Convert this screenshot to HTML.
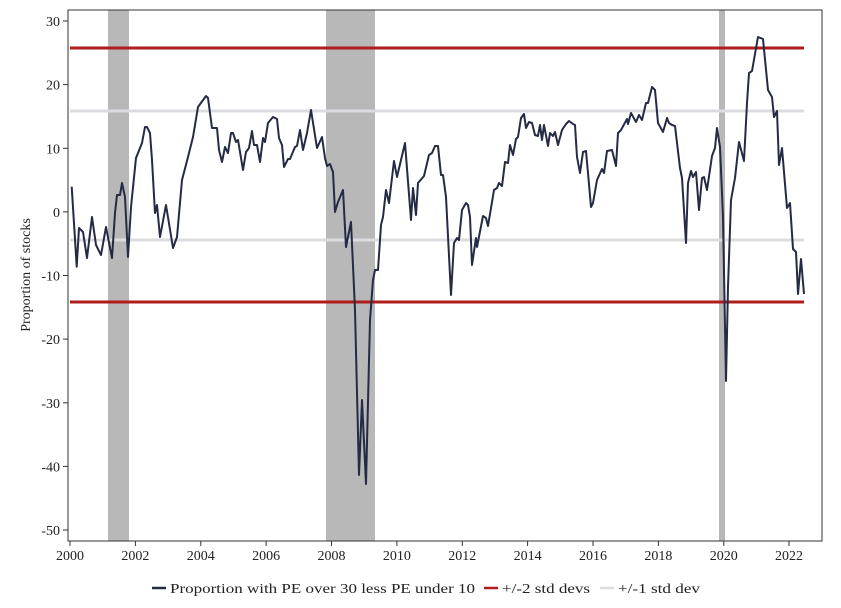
<!DOCTYPE html>
<html><head><meta charset="utf-8"><style>
body{margin:0;background:#fff}
svg text{font-family:"Liberation Serif","DejaVu Serif",serif;font-size:14px;fill:#222}
</style></head><body>
<svg width="841" height="603" viewBox="0 0 841 603" xmlns="http://www.w3.org/2000/svg">
<rect x="108" y="10" width="21" height="531" fill="#b8b8b8"/>
<rect x="326" y="10" width="49" height="531" fill="#b8b8b8"/>
<rect x="719" y="10" width="6" height="531" fill="#b8b8b8"/>
<line x1="70" y1="111" x2="804" y2="111" stroke="#dcdce0" stroke-width="3"/>
<line x1="70" y1="240" x2="804" y2="240" stroke="#dcdce0" stroke-width="3"/>
<line x1="70" y1="48" x2="804" y2="48" stroke="#b01c1c" stroke-width="3"/>
<line x1="70" y1="302" x2="804" y2="302" stroke="#b01c1c" stroke-width="3"/>
<polyline fill="none" stroke="#252a45" stroke-width="2" stroke-linejoin="round" points="
71.7,186.7 76.7,266.7 79,228 83,232 87,258 92,217 96,245 101,255 106,227 112,258 115,213 117,195 120,195 122,183 125,197 128,257 131,207 136,158 142,143 145,127 147,127 150,133 152,160 155,213 157,205 160,237 166,205 173,248 177,237 182,180 188,157 193,137 198,107 206,96 208,98 212,128 217,128 219,150 222,162 225,147 228,153 231,133 233,133 236,142 238,140 243,170 246,152 249,148 252,131 254,145 257,145 260,162 263,138 265,142 268,123 273,117 277,119 279,138 282,145 284,167 288,159 290,159 295,147 297,146 300,130 303,150 307,133 311,110 317,148 322,137 325,158 327,166 330,164 333,172 335,212 338,202 343,190 346,247 351,222 355,310 359,475 362,400 366,484 370,320 373,280 375,270 378,270 381,225 383,217 386,190 389,203 394,161 397,177 405,143 411,220 413,188 416,215 418,183 424,176 429,155 432,153 435,146 438,146 441,175 443,175 446,197 451,295 454,243 457,238 459,240 462,210 466,203 468,205 470,217 472,265 476,238 477,247 483,216 486,218 488,226 494,190 497,188 499,183 502,186 505,162 508,163 510,145 513,155 516,139 518,137 521,118 524,114 526,128 529,122 532,123 535,135 538,136 540,125 542,140 544,125 548,146 550,133 553,136 555,132 558,145 562,130 566,124 569,121 573,124 575,125 577,157 580,173 583,152 586,151 588,173 591,207 593,203 597,180 602,169 604,173 607,151 612,150 616,166 618,133 621,130 627,119 628,124 631,113 636,122 639,115 642,120 646,103 648,103 652,87 655,90 658,123 663,132 667,118 669,123 672,125 675,126 680,168 682,178 686,243 688,183 691,171 693,177 696,172 699,210 702,178 704,177 707,190 712,156 715,148 717,128 720,147 723,217 726,381 728,287 731,200 735,178 739,142 744,161 747,103 749,73 752,71 758,37 763,39 768,90 772,97 774,117 777,111 779,165 782,148 787,208 790,203 793,249 796,252 798,294 801,259 804,294"/>
<rect x="68" y="10" width="754" height="531" fill="none" stroke="#333" stroke-width="1"/>
<g stroke="#333" stroke-width="1">
<line x1="63" y1="21" x2="68" y2="21"/><line x1="63" y1="84.6" x2="68" y2="84.6"/><line x1="63" y1="148.3" x2="68" y2="148.3"/><line x1="63" y1="211.9" x2="68" y2="211.9"/><line x1="63" y1="275.5" x2="68" y2="275.5"/><line x1="63" y1="339.1" x2="68" y2="339.1"/><line x1="63" y1="402.8" x2="68" y2="402.8"/><line x1="63" y1="466.4" x2="68" y2="466.4"/><line x1="63" y1="530" x2="68" y2="530"/>
<line x1="70" y1="541" x2="70" y2="546"/><line x1="135.4" y1="541" x2="135.4" y2="546"/><line x1="200.8" y1="541" x2="200.8" y2="546"/><line x1="266.1" y1="541" x2="266.1" y2="546"/><line x1="331.5" y1="541" x2="331.5" y2="546"/><line x1="396.9" y1="541" x2="396.9" y2="546"/><line x1="462.3" y1="541" x2="462.3" y2="546"/><line x1="527.6" y1="541" x2="527.6" y2="546"/><line x1="593" y1="541" x2="593" y2="546"/><line x1="658.4" y1="541" x2="658.4" y2="546"/><line x1="723.8" y1="541" x2="723.8" y2="546"/><line x1="789" y1="541" x2="789" y2="546"/>
</g>
<g text-anchor="end">
<text x="60" y="26">30</text><text x="60" y="89.6">20</text><text x="60" y="153.3">10</text><text x="60" y="216.9">0</text><text x="60" y="280.5">-10</text><text x="60" y="344.1">-20</text><text x="60" y="407.8">-30</text><text x="60" y="471.4">-40</text><text x="60" y="535">-50</text>
</g>
<g text-anchor="middle">
<text x="70" y="560">2000</text><text x="135.4" y="560">2002</text><text x="200.8" y="560">2004</text><text x="266.1" y="560">2006</text><text x="331.5" y="560">2008</text><text x="396.9" y="560">2010</text><text x="462.3" y="560">2012</text><text x="527.6" y="560">2014</text><text x="593" y="560">2016</text><text x="658.4" y="560">2018</text><text x="723.8" y="560">2020</text><text x="789" y="560">2022</text>
</g>
<text transform="translate(30,275) rotate(-90)" text-anchor="middle">Proportion of stocks</text>
<line x1="152" y1="588" x2="166" y2="588" stroke="#252a45" stroke-width="2.5"/>
<text x="170" y="593" textLength="305" lengthAdjust="spacingAndGlyphs">Proportion with PE over 30 less PE under 10</text>
<line x1="484" y1="588" x2="498" y2="588" stroke="#b01c1c" stroke-width="2.5"/>
<text x="502" y="593" textLength="88" lengthAdjust="spacingAndGlyphs">+/-2 std devs</text>
<line x1="600" y1="588" x2="614" y2="588" stroke="#dcdce0" stroke-width="2.5"/>
<text x="618" y="593" textLength="82" lengthAdjust="spacingAndGlyphs">+/-1 std dev</text>
</svg>
</body></html>
